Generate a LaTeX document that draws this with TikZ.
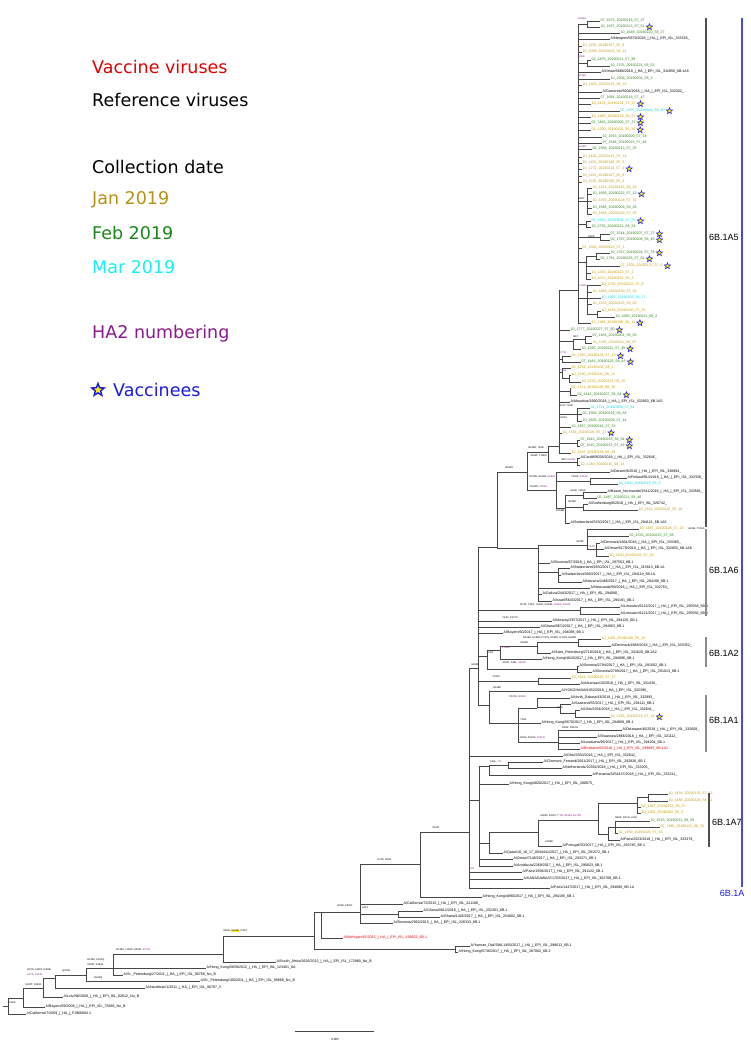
\documentclass[tikz,border=0pt]{standalone}
\usepackage{fontspec}
\setmainfont{Liberation Sans}
\newfontfamily\legfont{DejaVu Sans}
\usetikzlibrary{shapes.geometric}
\definecolor{cJan}{RGB}{196,154,8}
\definecolor{cFeb}{RGB}{44,128,22}
\definecolor{cMar}{RGB}{10,215,225}
\definecolor{cLJan}{RGB}{184,145,20}
\definecolor{cLFeb}{RGB}{25,135,25}
\definecolor{cLMar}{RGB}{20,240,240}
\definecolor{cHA}{RGB}{140,25,140}
\definecolor{cVac}{RGB}{225,0,0}
\definecolor{cBlue}{RGB}{25,25,230}
\definecolor{cBr}{RGB}{80,80,80}
\tikzset{
  br/.style={draw=black!72, line width=0.6pt},
  tip/.style={anchor=west, inner xsep=0.5pt, inner ysep=0pt, font=\fontsize{3.6}{3.6}\selectfont},
  mut/.style={anchor=west, inner sep=0.2pt, font=\fontsize{2.5}{2.5}\selectfont},
  vst/.style={star, star points=5, star point ratio=2.3, draw=cBlue, fill=yellow, line width=0.55pt, minimum size=6.5pt, inner sep=0pt},
  legstar/.style={star, star points=5, star point ratio=2.3, draw=cBlue, fill=yellow, line width=1.4pt, minimum size=13pt, inner sep=0pt},
  leg/.style={anchor=west, inner sep=0pt, font=\legfont\fontsize{17.5}{20}\selectfont},
  clab/.style={anchor=west, inner sep=0pt, font=\fontsize{9}{10}\selectfont},
  brk/.style={draw=cBr, line width=1.1pt},
}
\newcommand\TNode[4]{\coordinate (#1) at (#3,#4); \draw[br] (#2) |- (#1);}
\newcommand\TTip[6]{\node[tip,text=#5] (#1) at (#3,#4) {#6}; \draw[br] (#2) |- (#1.west);}
\newcommand\TTipS[6]{\TTip{#1}{#2}{#3}{#4}{#5}{#6}\node[vst] (#1s) at ([xshift=4pt]#1.east) {};}
\newcommand\TMut[4]{\node[mut] (#1) at (#2,#3) {#4};}
\newcommand\HAp[1]{\textcolor{cHA}{#1}}
\begin{document}
\catcode`\_=12
\begin{tikzpicture}[x=1pt,y=-1pt]
\useasboundingbox (0,0) rectangle (750,1052);
% ---------------- legend
\node[leg,text=cVac] (lg1) at (92,67) {Vaccine viruses};
\node[leg] (lg2) at (92,100) {Reference viruses};
\node[leg] (lg3) at (92,167) {Collection date};
\node[leg,text=cLJan] (lg4) at (92,200) {Jan 2019};
\node[leg,text=cLFeb] (lg5) at (92,233) {Feb 2019};
\node[leg,text=cLMar] (lg6) at (92,267) {Mar 2019};
\node[leg,text=cHA] (lg7) at (92,334) {HA2 numbering};
\node[legstar] (lg8) at (98,390) {};
\node[leg,text=cBlue] (lg9) at (113,390) {Vaccinees};
% ---------------- backbone
\coordinate (rs) at (3,1006);
\TNode{r0}{rs}{8}{1006}
\TTip{tcal9}{r0}{26}{1014}{black}{A/California/7/2009_|_HA_|_FJ966084.1}
\TNode{n1}{r0}{23}{998}
\TTip{tbay9}{n1}{45}{1007}{black}{A/Bayern/69/2009_|_HA_|_EPI_ISL_75686_No_B}
\TNode{n2}{n1}{43}{988}
\TTip{tlviv}{n2}{63}{997}{black}{A/Lviv/N6/2009_|_HA_|_EPI_ISL_62612_No_B}
\TNode{n3}{n2}{55}{978}
\TTip{tastr}{n3}{145}{988}{black}{A/Astrakhan/1/2011_|_HA_|_EPI_ISL_90707_5}
\TNode{n4}{n3}{86}{975}
\TTip{tsp100}{n4}{200}{981}{black}{A/St._Petersburg/100/2011_|_HA_|_EPI_ISL_89868_No_B}
\TNode{n5}{n4}{113}{968}
\TTip{tsp27}{n5}{123}{975}{black}{A/St._Petersburg/27/2011_|_HA_|_EPI_ISL_90769_No_B}
\TTip{thk12}{n5}{206}{968}{black}{A/Hong_Kong/5659/2012_|_HA_|_EPI_ISL_123461_6A}
\TNode{n6}{n5}{223}{954}
\TTip{tsa13}{n6}{276}{962}{black}{A/South_Africa/3626/2013_|_HA_|_EPI_ISL_172980_No_B}
\TNode{n7}{n6}{314}{936}
\TNode{n8}{n7}{321}{912}
\TTip{tmich}{n8}{343}{938}{cVac}{A/Michigan/45/2015_|_HA_|_EPI_ISL_199632_6B.1}
\TNode{ny}{n7}{455}{949}
\TTip{tyun}{ny}{470}{946}{black}{A/Yunnan_Dali/SWL1450/2017_|_HA_|_EPI_ISL_298612_6B.1}
\TTip{thk2}{ny}{458}{952}{black}{A/Hong_Kong/5738/2017_|_HA_|_EPI_ISL_307802_6B.2}
\TNode{c0}{n8}{360}{912}
\TTip{tcal15}{c0}{403}{904}{black}{A/California/72/2015_|_HA_|_EPI_ISL_221186_}
\TNode{g}{c0}{398}{914}
\TTip{tgh1}{g}{423}{911}{black}{A/Ghana/0812/2016_|_HA_|_EPI_ISL_252301_6B.1}
\TTip{tgh2}{g}{440}{917}{black}{A/Ghana/1405/2017_|_HA_|_EPI_ISL_254002_6B.1}
\TTip{tslo15}{c0}{393}{923}{black}{A/Slovenia/2903/2015_|_HA_|_EPI_ISL_226333_6B.1}
\TNode{c1}{c0}{420}{864}
\TTip{thk4890}{c1}{482}{897}{black}{A/Hong_Kong/4890/2017_|_HA_|_EPI_ISL_294185_6B.1}
\TNode{b1}{c1}{469}{832}
\TNode{b2}{b1}{478}{668}
\TTip{tohio2}{b1}{563}{756}{black}{A/Ohio/2350/2018_|_HA_|_EPI_ISL_332642_}
\TNode{b4}{b1}{479}{800}
\TTip{tpar1556}{b1}{522}{872}{black}{A/Paris/1556/2017_|_HA_|_EPI_ISL_291122_6B.1}
\TTip{tkan}{b1}{523}{879}{black}{A/KANAGAWA/IC1702/2017_|_HA_|_EPI_ISL_302768_6B.1}
\TTip{tpar1447}{b1}{550}{888}{black}{A/Paris/1447/2017_|_HA_|_EPI_ISL_294688_6B.1A}
% ---------------- b4 group (incl. 6B.1A7)
\TNode{f}{b4}{489}{766}
\TNode{f2}{f}{508}{765}
\TTip{tcler}{f2}{543}{762}{black}{A/Clermont_Ferrand/2001/2017_|_HA_|_EPI_ISL_292826_6B.1}
\TTip{tneth}{f2}{562}{768}{black}{A/Netherlands/10391/2018_|_HA_|_EPI_ISL_333205_}
\TTip{tpan}{f}{592}{775}{black}{A/Panama/3254437/2018_|_HA_|_EPI_ISL_332211_}
\TTip{thk4820}{b4}{509}{784}{black}{A/Hong_Kong/4820/2017_|_HA_|_EPI_ISL_288075_}
\TNode{a7}{b4}{489}{843}
\TNode{a7a}{a7}{538}{832}
\TNode{a7b}{a7a}{598}{820}
\TNode{a7c}{a7b}{637}{803}
\TNode{a7f}{a7c}{648}{797}
\TTip{t119}{a7f}{668}{794}{cJan}{10_1434_20190125_57_12}
\TTip{t120}{a7f}{668}{801}{cJan}{10_1486_20190128_58_41}
\TTip{t121}{a7c}{641}{807}{cJan}{02_1367_20190122_58_37}
\TTip{t122}{a7c}{641}{813}{cJan}{10_1100_20190102_55_3}
\TNode{a7d}{a7b}{608}{834}
\TNode{a7e}{a7d}{615}{827}
\TTip{t123}{a7e}{650}{821}{cFeb}{10_1615_20190211_58_59}
\TTip{t124}{a7e}{660}{827}{cJan}{07_1180_20190112_58_30}
\TTip{t125}{a7e}{618}{833}{cJan}{10_1459_20190126_57_18}
\TTip{t126}{a7d}{620}{840}{black}{A/Paris/2523/2018_|_HA_|_EPI_ISL_333379_}
\TTip{t127}{a7a}{562}{846}{black}{A/Portugal/50/2017_|_HA_|_EPI_ISL_293745_6B.1}
\TTip{t128}{a7}{503}{853}{black}{A/Qatar/10_16_17_0044441/2017_|_HA_|_EPI_ISL_291572_6B.1}
\TTip{t129}{b4}{513}{859}{black}{A/Oman/7146/2017_|_HA_|_EPI_ISL_293371_6B.1}
\TTip{t130}{b4}{513}{866}{black}{A/Andalucia/2369/2017_|_HA_|_EPI_ISL_290823_6B.1}
% ---------------- b2 group
\TNode{b3}{b2}{497}{547}
\TNode{a6f}{b2}{580}{610}
\TTip{t91}{a6f}{620}{607}{black}{A/Limousin/6122/2017_|_HA_|_EPI_ISL_295558_6B.1}
\TTip{t92}{a6f}{620}{614}{black}{A/Limousin/6121/2017_|_HA_|_EPI_ISL_295556_6B.1}
\TTip{t93}{b2}{552}{621}{black}{A/Norway/2357/2017_|_HA_|_EPI_ISL_294126_6B.1}
\TTip{t94}{b2}{540}{627}{black}{A/Ghana/0674/2017_|_HA_|_EPI_ISL_294063_6B.1}
\TTip{t95}{b2}{503}{633}{black}{A/Bayern/60/2017_|_HA_|_EPI_ISL_294088_6B.1}
\TNode{a2}{b2}{487}{656}
\TNode{a2a}{a2}{500}{650}
\TNode{a2b}{a2a}{537}{646}
\TNode{a2c}{a2b}{578}{642}
\TTip{t96}{a2c}{601}{639}{cJan}{10_1100_20190106_55_10}
\TTip{t97}{a2c}{611}{646}{black}{A/Denmark/1868/2018_|_HA_|_EPI_ISL_333352_}
\TTip{t98}{a2b}{551}{653}{black}{A/Saint_Petersburg/2718/2018_|_HA_|_EPI_ISL_331620_6B.1A2}
\TTip{t99}{a2a}{542}{659}{black}{A/Hong_Kong/4810/2017_|_HA_|_EPI_ISL_294096_6B.1}
\TNode{a2d}{a2}{577}{669}
\TTip{t100}{a2d}{579}{666}{black}{A/Slovenia/2794/2017_|_HA_|_EPI_ISL_291002_6B.1}
\TTip{t101}{a2d}{592}{672}{black}{A/Slovenia/2799/2017_|_HA_|_EPI_ISL_291013_6B.1}
\TNode{tt}{b2}{538}{681}
\TTip{t102}{tt}{571}{678}{cJan}{10_1454_20190126_57_17}
\TTip{t103}{tt}{580}{684}{black}{A/Arkansas/10/2018_|_HA_|_EPI_ISL_331430_}
\TNode{a1p}{b2}{489}{705}
\TTip{t104}{a1p}{561}{691}{black}{A/YOKOHAMA/1052/2018_|_HA_|_EPI_ISL_332396_}
\TNode{a1}{a1p}{518}{723}
\TNode{a1b}{a1}{537}{708}
\TTip{t105}{a1b}{570}{698}{black}{A/North_Dakota/43/2018_|_HA_|_EPI_ISL_332993_}
\TNode{a1c}{a1b}{560}{707}
\TTip{t106}{a1c}{571}{704}{black}{A/Saarland/55/2017_|_HA_|_EPI_ISL_294111_6B.1}
\TNode{a1d}{a1c}{575}{713}
\TTip{t107}{a1d}{580}{710}{black}{A/Ohio/2254/2018_|_HA_|_EPI_ISL_332641_}
\TTipS{t108}{a1d}{610}{717}{cJan}{10_1335_20190123_57_16}
\TTip{t109}{a1}{541}{723}{black}{A/Hong_Kong/5670/2017_|_HA_|_EPI_ISL_294069_6B.1}
\TNode{a1e}{a1}{558}{742}
\TTip{t110}{a1e}{622}{730}{black}{A/Delaware/40/2018_|_HA_|_EPI_ISL_332608_}
\TTip{t111}{a1e}{597}{737}{black}{A/Swansea/2866/2018_|_HA_|_EPI_ISL_321112_}
\TTip{t112}{a1e}{580}{743}{black}{A/Louisiana/96/2017_|_HA_|_EPI_ISL_294204_6B.1}
\TTip{t113}{a1e}{580}{749}{cVac}{A/Brisbane/02/2018_|_HA_|_EPI_ISL_299865_6B.1A1}
% ---------------- 6B.1A6
\TNode{a6a}{b3}{538}{548}
\TNode{a6b}{a6a}{587}{545}
\TTip{t79}{a6b}{639}{529}{cJan}{10_1487_20190128_57_24}
\TTip{t80}{a6b}{629}{536}{cFeb}{02_1533_20190215_57_58}
\TNode{a6c}{a6b}{596}{549}
\TTip{t81}{a6c}{600}{543}{black}{A/Denmark/1864/2018_|_HA_|_EPI_ISL_333360_}
\TTip{t82}{a6c}{604}{549}{black}{A/Oman/5179/2018_|_HA_|_EPI_ISL_332855_6B.1A6}
\TTip{t83}{a6c}{609}{556}{cJan}{10_1400_20190126_57_26}
\TTip{t84}{a6a}{550}{563}{black}{A/Slovenia/57/2018_|_HA_|_EPI_ISL_297553_6B.1}
\TNode{a6e}{a6a}{558}{572}
\TTip{t85}{a6e}{570}{568}{black}{A/Switzerland/2650/2017_|_HA_|_EPI_ISL_315813_6B.1A}
\TTip{t86}{a6e}{561}{575}{black}{A/Switzerland/2660/2017_|_HA_|_EPI_ISL_294119_6B.1A}
\TTip{t87}{a6e}{582}{582}{black}{A/Navarra/2466/2017_|_HA_|_EPI_ISL_294106_6B.1}
\TTip{t88}{a6a}{590}{588}{black}{A/Newcastle/69/2018_|_HA_|_EPI_ISL_332763_}
\TTip{t89}{a6a}{542}{594}{black}{A/Galicia/2443/2017_|_HA_|_EPI_ISL_294090_}
\TTip{t90}{a6a}{552}{601}{black}{A/Israel/5643/2017_|_HA_|_EPI_ISL_294191_6B.1}
% ---------------- 6B.1A5 region
\TNode{nn}{b3}{527}{472}
\TNode{k}{nn}{548}{452}
\TNode{d}{nn}{556}{490}
\TTip{t71}{d}{610}{472}{black}{A/Darwin/9/2018_|_HA_|_EPI_ISL_336894_}
\TNode{df}{d}{590}{481}
\TTip{t72}{df}{627}{478}{black}{A/Finland/914/2018_|_HA_|_EPI_ISL_332336_}
\TTip{t73}{df}{618}{484}{cMar}{10_1900_20190318_58_5}
\TNode{dg}{d}{565}{508}
\TNode{dh}{dg}{583}{495}
\TTip{t74}{dh}{607}{492}{black}{A/Basse_Normandie/2541/2018_|_HA_|_EPI_ISL_333581_}
\TTip{t75}{dh}{597}{498}{cFeb}{02_1487_20190211_58_46}
\TNode{di}{dg}{583}{507}
\TTip{t76}{di}{588}{504}{black}{A/Gothenburg/8/2018_|_HA_|_EPI_ISL_326742_}
\TTip{t77}{di}{638}{510}{cJan}{10_1312_20190115_55_18}
\TTip{t78}{dg}{570}{523}{black}{A/Switzerland/3330/2017_|_HA_|_EPI_ISL_294121_6B.1A5}
\TNode{m}{k}{559}{446}
\TNode{cd}{k}{577}{462}
\TTip{t69}{cd}{580}{458}{black}{A/Cardiff/8028/2018_|_HA_|_EPI_ISL_332646_}
\TTip{t70}{cd}{580}{465}{cJan}{10_1240_20190115_58_14}
\TNode{m1}{m}{578}{290}
\TTipS{t49}{m}{570}{330}{cFeb}{10_1777_20190227_57_80}
\TNode{m2}{m}{573}{341}
\TNode{mx}{m2}{585}{339}
\TTip{t50}{mx}{592}{336}{cFeb}{07_1483_20190201_58_50}
\TTip{t51}{mx}{592}{343}{cJan}{10_1236_20190111_58_37}
\TTipS{t52}{m2}{581}{349}{cFeb}{10_1395_20190211_57_45}
\TNode{m3}{m}{562}{359}
\TTipS{t53}{m3}{571}{356}{cJan}{02_1350_20190128_57_23}
\TTipS{t54}{m3}{581}{362}{cFeb}{07_1441_20190125_58_43}
\TNode{m4}{m}{562}{372}
\TTip{t55}{m4}{571}{368}{cJan}{02_1216_20190108_58_1}
\TNode{mx4}{m4}{569}{378}
\TTip{t56}{mx4}{571}{375}{cJan}{10_1230_20190111_55_12}
\TTip{t57}{mx4}{581}{382}{cJan}{10_1270_20190113_55_15}
\TNode{m5}{m}{570}{391}
\TTip{t58}{m5}{571}{388}{cJan}{02_1211_20190129_58_30}
\TTipS{t59}{m5}{577}{395}{cFeb}{02_1441_20190207_58_64}
\TTip{t60}{m}{570}{402}{black}{A/Mauritius/1990/2018_|_HA_|_EPI_ISL_332803_6B.1A5}
\TNode{m6}{m}{577}{414}
\TTip{t61}{m6}{590}{408}{cMar}{02_1721_20190308_57_84}
\TTip{t62}{m6}{582}{414}{cFeb}{02_1568_20190219_58_64}
\TTip{t63}{m6}{582}{421}{cFeb}{10_1605_20190209_57_44}
\TTip{t64}{m}{571}{427}{cFeb}{10_1667_20190216_57_53}
\TTipS{t65}{m}{562}{433}{cJan}{10_1391_20190119_55_17}
\TNode{m7}{m}{577}{443}
\TTipS{t66}{m7}{580}{440}{cFeb}{07_1643_20190215_58_64}
\TTipS{t67}{m7}{580}{446}{cFeb}{07_1615_20190212_57_41}
\TTip{t68}{m}{571}{453}{cJan}{10_1327_20190119_58_28}
% m1 subclade
\TNode{c1n}{m1}{587}{24}
\TTip{t1}{c1n}{600}{21}{cFeb}{07_1673_20190218_57_37}
\TTipS{t2}{c1n}{600}{27}{cFeb}{10_1637_20190213_57_51}
\TTip{t3}{m1}{620}{33}{cFeb}{10_1649_20190220_58_27}
\TTip{t4}{m1}{610}{39}{black}{A/Newport/5679/2018_|_HA_|_EPI_ISL_333328_}
\TTip{t5}{m1}{582}{46}{cJan}{10_1135_20190107_55_9}
\TTip{t6}{m1}{582}{52}{cJan}{10_1099_20190102_58_41}
\TNode{c2n}{m1}{587}{63}
\TTip{t7}{c2n}{591}{60}{cFeb}{02_1475_20190211_57_39}
\TTip{t8}{c2n}{610}{66}{cFeb}{10_1705_20190221_58_53}
\TTip{t9}{m1}{601}{72}{black}{A/Oman/5680/2018_|_HA_|_EPI_ISL_332856_6B.1A5}
\TTip{t10}{m1}{610}{79}{cFeb}{10_1506_20190204_58_3}
\TTip{t11}{m1}{582}{85}{cJan}{10_1303_20190123_58_23}
\TTip{t12}{m1}{602}{92}{black}{A/Gamcrest/9204/2018_|_HA_|_EPI_ISL_332302_}
\TTip{t13}{m1}{600}{98}{cFeb}{07_1684_20190218_57_47}
\TTipS{t14}{m1}{591}{104}{cJan}{10_1423_20190124_57_17}
\TTipS{t15}{m1}{620}{111}{cMar}{07_1875_20190304_58_60}
\TTipS{t16}{m1}{591}{117}{cJan}{10_1480_20190129_58_57}
\TTipS{t17}{m1}{591}{123}{cFeb}{02_1463_20190206_57_37}
\TTipS{t18}{m1}{591}{130}{cJan}{02_1200_20190110_55_16}
\TTip{t19}{m1}{602}{137}{cFeb}{10_1563_20190209_57_34}
\TTip{t20}{m1}{602}{143}{cFeb}{07_1546_20190215_57_46}
\TTip{t21}{m1}{592}{149}{cFeb}{02_1558_20190213_57_35}
\TTip{t22}{m1}{582}{157}{cJan}{10_1420_20190124_57_14}
\TTip{t23}{m1}{582}{163}{cJan}{10_1125_20190106_55_5}
\TTipS{t24}{m1}{582}{169}{cJan}{10_1272_20190114_57_3}
\TTip{t25}{m1}{582}{176}{cJan}{10_1153_20190107_55_8}
\TTip{t26}{m1}{582}{182}{cJan}{10_1120_20190106_55_4}
\TNode{c4n}{m1}{587}{201}
\TTip{t27}{c4n}{592}{188}{cJan}{10_1421_20190125_58_40}
\TTipS{t28}{c4n}{592}{194}{cFeb}{10_1666_20190222_57_13}
\TTip{t29}{c4n}{592}{201}{cJan}{10_1393_20190124_57_19}
\TTip{t30}{c4n}{592}{208}{cFeb}{10_1548_20190209_58_26}
\TTip{t31}{c4n}{592}{214}{cJan}{10_1488_20190129_57_35}
\TNode{c5n}{m1}{586}{224}
\TTipS{t32}{c5n}{591}{221}{cMar}{07_1833_20190304_57_76}
\TTip{t33}{c5n}{591}{227}{cFeb}{10_1733_20190221_58_54}
\TNode{c6n}{m1}{600}{237}
\TTipS{t34}{c6n}{610}{234}{cFeb}{07_1544_20190207_57_27}
\TTipS{t35}{c6n}{610}{240}{cFeb}{02_1767_20190208_58_45}
\TTip{t36}{m1}{582}{248}{cJan}{07_1300_20190123_57_1}
\TNode{aa1}{m1}{586}{262}
\TNode{aa2}{aa1}{596}{256}
\TTipS{t37}{aa2}{610}{253}{cFeb}{10_1767_20190228_57_78}
\TTipS{t38}{aa2}{600}{259}{cFeb}{02_1791_20190228_57_81}
\TTipS{t39}{aa1}{620}{266}{cJan}{07_1303_20190123_57_6}
\TTip{t40}{aa1}{591}{273}{cJan}{10_1333_20190123_57_2}
\TTip{t41}{aa1}{591}{279}{cJan}{10_1071_20190102_55_3}
\TNode{bb1}{m1}{587}{298}
\TTip{t42}{bb1}{601}{285}{cJan}{10_1370_20190123_57_8}
\TTip{t43}{bb1}{592}{292}{cJan}{10_1483_20190130_57_20}
\TTip{t44}{bb1}{601}{298}{cMar}{10_1903_20190305_58_71}
\TTip{t45}{bb1}{592}{304}{cJan}{10_1333_20190123_55_20}
\TNode{bb3}{bb1}{597}{314}
\TTip{t46}{bb3}{601}{311}{cJan}{10_1435_20190130_57_31}
\TTip{t47}{bb3}{615}{317}{cFeb}{10_1680_20190211_58_2}
\TTipS{t48}{m1}{591}{323}{cJan}{10_1189_20190108_58_11}
% ---------------- mutation labels
\TMut{mu1}{9}{1003}{P83S}
\TMut{mu2}{25}{985}{S203T, S323G}
\TMut{mu3}{27}{970}{D97N, S185T, K283E}
\TMut{mu4}{27}{975}{\HAp{E47K, S124N}}
\TMut{mu5}{62}{971}{Q223R}
\TMut{mu6}{87}{960}{R139K, K163Q,}
\TMut{mu7}{87}{965}{A256T, K283E}
\TMut{mu8}{94}{978}{R223Q}
\TMut{mu9}{116}{950}{R139K, L165R, H269T, \HAp{E172K}}
\TMut{mu10}{223}{931}{S84N, {\setlength\fboxsep{0.3pt}\colorbox{yellow}{S162N}}, I216T}
\TMut{mu11}{337}{906}{D94N, P205T}
\TMut{mu12}{362}{908}{S91T}
\TMut{mu13}{377}{860}{S74R, I295V}
\TMut{mu14}{432}{828}{S164T}
\TMut{mu15}{470}{869}{\HAp{A5I}}
\TMut{mu16}{471}{665}{S183P}
\TMut{mu17}{490}{762}{F49L, \HAp{T7L}}
\TMut{mu18}{540}{816}{S183P, K302T, \HAp{I77M, N169S, E179D}}
\TMut{mu19}{545}{842}{K308R}
\TMut{mu20}{615}{818}{N86D, D27N, L161I}
\TMut{mu21}{520}{605}{R74K, T120I, T149S, Q223R, \HAp{D148S, N149S}}
\TMut{mu22}{502}{618}{T120I, P137S}
\TMut{mu23}{576}{542}{S183P}
\TMut{mu24}{588}{547}{\HAp{T120I}}
\TMut{mu25}{688}{529}{H158L, T215A}
\TMut{mu26}{523}{638}{N129D, H138N, P137S, N156K, K211R, E283N}
\TMut{mu27}{520}{643}{S283N}
\TMut{mu28}{502}{648}{\HAp{P159S}}
\TMut{mu29}{488}{653}{L32I}
\TMut{mu30}{502}{663}{A160T, S28L, \HAp{S291N}}
\TMut{mu31}{492}{677}{T120A}
\TMut{mu32}{493}{688}{N158D}
\TMut{mu33}{509}{697}{P137S, \HAp{N138S}}
\TMut{mu34}{557}{708}{P72L}
\TMut{mu35}{520}{720}{T29A}
\TMut{mu36}{562}{728}{R62K, D222G}
\TMut{mu37}{520}{738}{N45S, P223S, \HAp{S291N}}
\TMut{mu38}{505}{468}{N260D}
\TMut{mu39}{528}{448}{N129D, T185I}
\TMut{mu40}{529}{477}{K130N, H184N, \HAp{N260D}}
\TMut{mu41}{530}{487}{E235D, \HAp{P186S}}
\TMut{mu42}{571}{477}{T216K, \HAp{P261S}}
\TMut{mu43}{570}{491}{H40Q, T165K}
\TMut{mu44}{568}{502}{N129D}
\TMut{mu45}{556}{511}{K209M}
\TMut{mu46}{561}{460}{I86T, \HAp{H122Q}}
\TMut{mu47}{530}{456}{S183P, Y186H}
\TMut{mu48}{559}{406}{A13T, Y180I}
\TMut{mu49}{560}{418}{I165V}
\TMut{mu50}{573}{337}{N6T}
\TMut{mu51}{560}{353}{\HAp{I77M}}
\TMut{mu52}{560}{371}{\HAp{T14A}}
\TMut{mu53}{579}{286}{\HAp{L186S}}
\TMut{mu54}{578}{199}{A48T}
\TMut{mu55}{588}{237}{E62K}
\TMut{mu56}{578}{147}{\HAp{K163N}}
\TMut{mu57}{578}{76}{\HAp{N129D}}
\TMut{mu58}{578}{57}{\HAp{Q89K}}
\TMut{mu59}{578}{19}{\HAp{D186G}}
% ---------------- clade brackets
\coordinate (k5a) at (706,18); \coordinate (k5b) at (706,527);
\draw[brk] (k5a) -- (k5b);
\node[clab] (l5) at (709,237) {6B.1A5};
\coordinate (k6a) at (706,529); \coordinate (k6b) at (706,616);
\draw[brk,draw=black!45] (k6a) -- (k6b);
\node[clab] (l6) at (709,570) {6B.1A6};
\coordinate (k2a) at (706,637); \coordinate (k2b) at (706,667);
\draw[brk,draw=black!45] (k2a) -- (k2b);
\node[clab] (l2) at (709,653) {6B.1A2};
\coordinate (k1a) at (706,695); \coordinate (k1b) at (706,752);
\draw[brk,draw=black!45] (k1a) -- (k1b);
\node[clab] (l1) at (709,720) {6B.1A1};
\coordinate (k7a) at (709,793); \coordinate (k7b) at (709,847);
\draw[brk] (k7a) -- (k7b);
\node[clab] (l7) at (712,822) {6B.1A7};
\coordinate (kba) at (742,18); \coordinate (kbb) at (742,887);
\draw[draw=cBlue!80, line width=1.1pt] (kba) -- (kbb);
\node[clab,text=cBlue,anchor=center] (lb) at (732,893) {6B.1A};
% ---------------- scale bar
\coordinate (sb1) at (295,1031); \coordinate (sb2) at (374,1031);
\draw[br] (sb1) -- (sb2);
\node[mut,anchor=center,font=\fontsize{3}{3}\selectfont] (sbl) at (335,1039) {0.005};
\end{tikzpicture}
\end{document}
